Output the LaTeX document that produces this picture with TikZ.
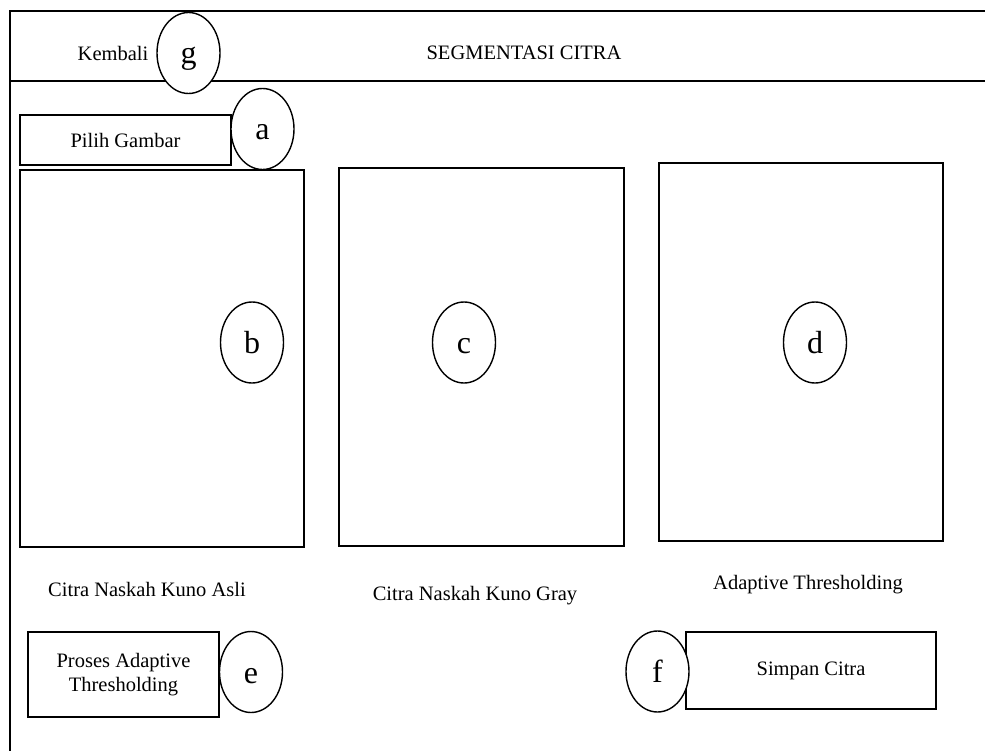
\documentclass[tikz,border=0pt]{standalone}
\usepackage{fontspec}
\setmainfont{Liberation Serif}
\usetikzlibrary{shapes.geometric}
\begin{document}
\begin{tikzpicture}[x=1pt,y=-1pt,
  frame/.style={line width=2.6pt},
  panel/.style={draw,line width=2.6pt,rectangle,inner sep=0pt,font=\fontsize{20.5}{24}\selectfont,align=center},
  tag/.style={draw,fill=white,line width=1.4pt,ellipse,inner sep=0pt,minimum width=63pt,minimum height=81pt,
    text height=22pt,text depth=0pt,font=\fontsize{32}{36}\selectfont},
  caption/.style={font=\fontsize{20.5}{24}\selectfont,inner sep=0pt}]
\useasboundingbox (0,0) rectangle (985,751);
% window frame and title bar
\draw[frame] (985,11) -- (10,11) -- (10,751);
\draw[frame] (10,81) -- (985,81);
\node[caption] (back) at (113,53) {Kembali};
\node[caption] (title) at (524,53) {SEGMENTASI CITRA};
% buttons
\node[panel,minimum width=211pt,minimum height=50pt] (pick) at (125.5,140) {Pilih Gambar};
\node[panel,minimum width=191pt,minimum height=85pt] (proc) at (123.5,674.5) {Proses Adaptive\\Thresholding};
\node[panel,minimum width=250pt,minimum height=77pt] (save) at (811,670.5) {Simpan Citra};
% image panels
\node[panel,minimum width=284pt,minimum height=377pt] (orig) at (162,358.5) {};
\node[panel,minimum width=285pt,minimum height=378pt] (gray) at (481.5,357) {};
\node[panel,minimum width=284pt,minimum height=378pt] (thr) at (801,352) {};
\node[caption] (lorig) at (147,589) {Citra Naskah Kuno Asli};
\node[caption] (lgray) at (475,596) {Citra Naskah Kuno Gray};
\node[caption] (lthr) at (808,585) {Adaptive Thresholding};
% component tags
\node[tag] (g) at (188.5,53) {g};
\node[tag] (a) at (262.5,129) {a};
\node[tag] (b) at (252,342.5) {b};
\node[tag] (c) at (464,342.5) {c};
\node[tag] (d) at (815,342.5) {d};
\node[tag] (e) at (251,672) {e};
\node[tag] (f) at (657.5,671.5) {f};
\end{tikzpicture}
\end{document}
